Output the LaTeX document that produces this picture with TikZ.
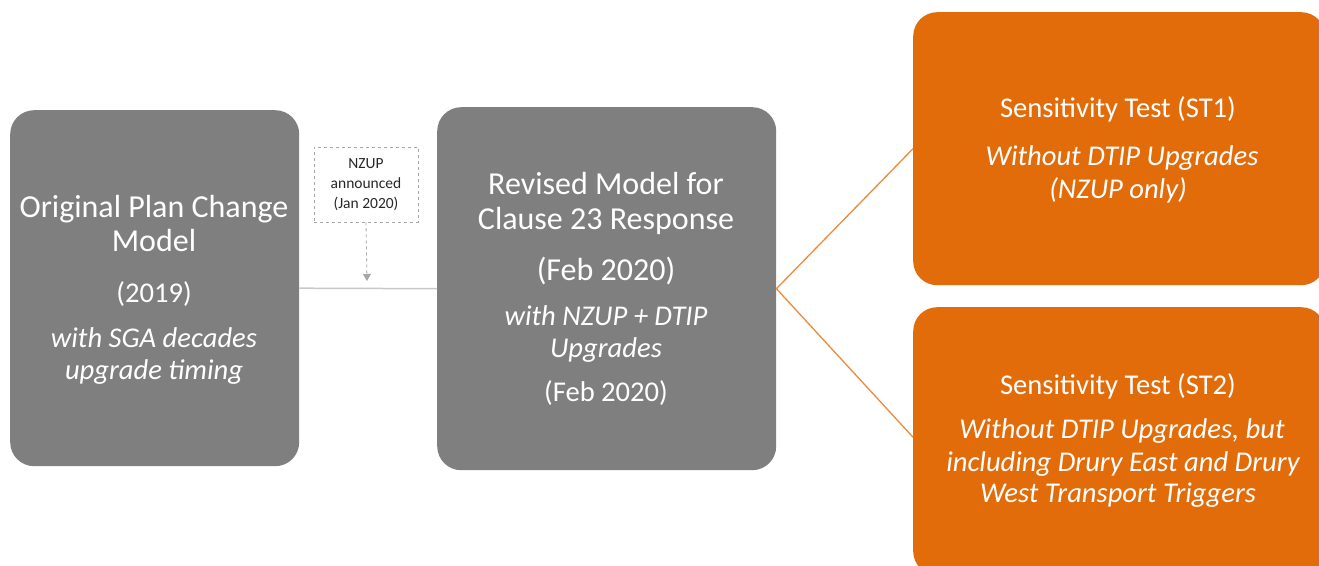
\documentclass[tikz,border=0pt]{standalone}
\usepackage{fontspec}
\setmainfont{Carlito}
\usetikzlibrary{arrows.meta}
\definecolor{boxgray}{HTML}{7F7F7F}
\definecolor{boxorange}{HTML}{E36C0A}
\definecolor{lineorange}{HTML}{ED8A3A}
\definecolor{linegray}{HTML}{C8C8C8}
\definecolor{dashgray}{HTML}{A6A6A6}
\tikzset{
  panel/.style={rectangle, rounded corners=24pt, inner sep=0pt, anchor=north west, draw=none},
  graypanel/.style={panel, fill=boxgray},
  orangepanel/.style={panel, fill=boxorange},
  txt/.style={text=white, inner sep=0pt, anchor=base, font=\fontsize{32}{36}\selectfont},
  txts/.style={text=white, inner sep=0pt, anchor=base, font=\fontsize{28.6}{32}\selectfont},
  itxt/.style={text=white, inner sep=0pt, anchor=base, font=\fontsize{28.6}{32}\selectfont\itshape},
  notebox/.style={rectangle, draw=dashgray, dashed, line width=0.8pt, minimum width=104pt, minimum height=75pt, inner sep=0pt, align=center, font=\fontsize{15.5}{20}\selectfont, text=black!85},
  connor/.style={draw=lineorange, line width=1.3pt},
  conngray/.style={draw=linegray, line width=1.5pt},
}
\begin{document}
\begin{tikzpicture}[x=1pt,y=1pt]
\useasboundingbox (0,0) rectangle (1319,565);
% panels
\node[graypanel, minimum width=289pt, minimum height=356pt] (orig) at (10,455) {};
\node[graypanel, minimum width=339pt, minimum height=363pt] (rev) at (437,458) {};
\node[orangepanel, minimum width=412pt, minimum height=273pt] (st1) at (913,553) {};
\node[orangepanel, minimum width=412pt, minimum height=268pt] (st2) at (913,258) {};
% note
\node[notebox] (note) at (366,380.5) {NZUP\\announced\\(Jan 2020)};
\coordinate (notetip) at (367,284);
% connectors
\draw[conngray] (orig.east) -- (rev.west);
\draw[draw=dashgray, dashed, line width=0.8pt, -{Triangle[length=7pt,width=8pt]}] (note.south) -- (notetip);
\draw[connor] (rev.east) -- (st1.west);
\draw[connor] (rev.east) -- ([yshift=4pt]st2.west);
% left texts
\node[txt] (o1) at (154,347) {Original Plan Change};
\node[txt] (o2) at (154,313) {Model};
\node[txts] (o3) at (154,262) {(2019)};
\node[itxt] (o4) at (154,217) {with SGA decades};
\node[itxt] (o5) at (154,185) {upgrade timing};
% middle texts
\node[txt] (r1) at (606,370) {Revised Model for};
\node[txt] (r2) at (606,335) {Clause 23 Response};
\node[txt] (r3) at (606,284) {(Feb 2020)};
\node[itxt] (r4) at (606,239) {with NZUP + DTIP};
\node[itxt] (r5) at (606,207) {Upgrades};
\node[txts] (r6) at (606,163) {(Feb 2020)};
% ST1
\node[txts] (s1) at (1118,447) {Sensitivity Test (ST1)};
\node[itxt] (s2) at (1122,399) {Without DTIP Upgrades};
\node[itxt] (s3) at (1118,366) {(NZUP only)};
% ST2
\node[txts] (t1) at (1118,170) {Sensitivity Test (ST2)};
\node[itxt] (t2) at (1122,127) {Without DTIP Upgrades, but};
\node[itxt] (t3) at (1123,94) {including Drury East and Drury};
\node[itxt] (t4) at (1118,63) {West Transport Triggers};
\end{tikzpicture}
\end{document}
